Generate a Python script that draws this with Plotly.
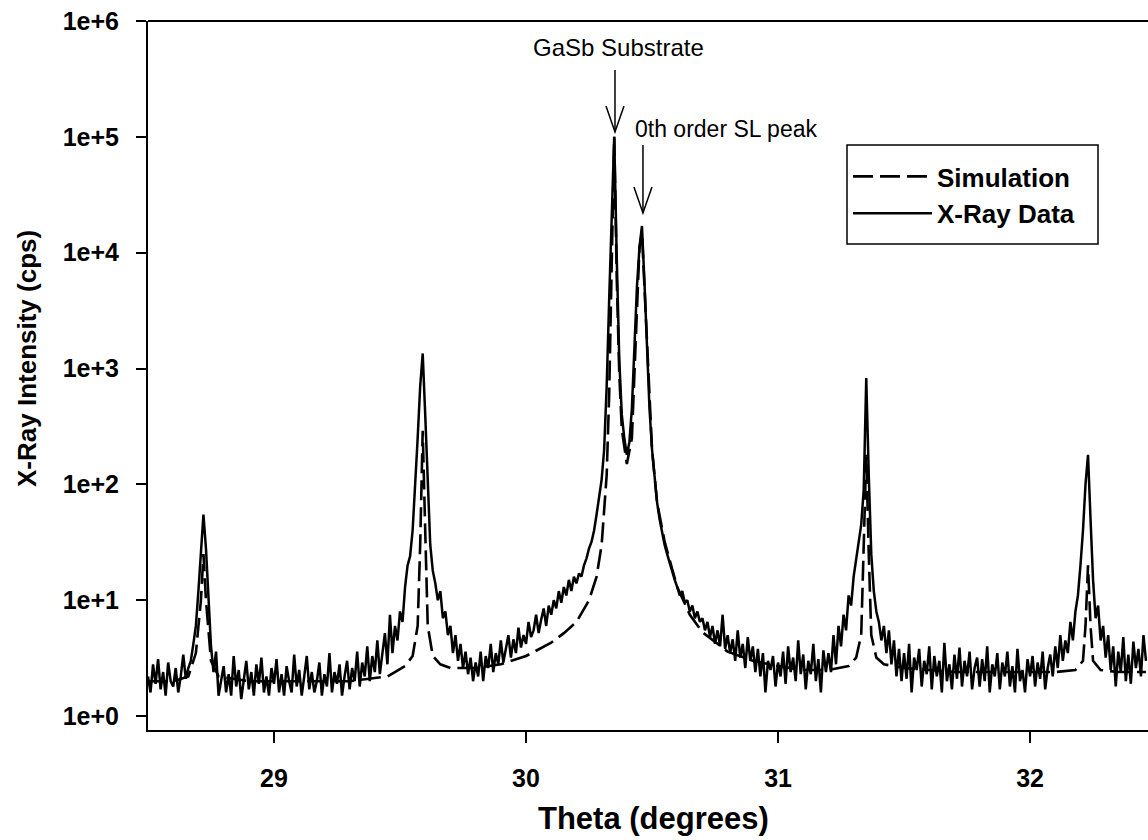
import numpy as np
import plotly.graph_objects as go

# ---------------- data ----------------
theta_start = 28.50
theta_step = 0.01
xray_counts = [
    2.2, 1.6, 2.8, 1.9, 3.1, 1.7, 2.4, 1.5, 2.9, 2.0,      # 28.5
    1.8, 2.6, 1.6, 2.2, 3.4, 2.1, 2.6, 3.0, 4.2, 6.0,      # 28.6
    12, 26, 55, 28, 9, 4.0, 2.4, 3.6, 1.5, 2.0,            # 28.7
    2.7, 1.6, 2.3, 1.5, 3.3, 1.8, 2.5, 1.4, 2.1, 3.0,      # 28.8
    1.7, 2.4, 1.5, 2.8, 1.9, 3.2, 1.6, 2.2, 1.5, 2.6,      # 28.9
    1.9, 3.1, 1.6, 2.3, 1.5, 2.7, 2.0, 1.6, 3.4, 1.8,      # 29.0
    2.5, 1.5, 2.2, 3.3, 1.7, 2.4, 1.6, 2.0, 2.9, 1.5,      # 29.1
    2.3, 1.8, 3.5, 1.6, 2.4, 1.9, 2.8, 1.5, 2.2, 3.0,      # 29.2
    1.7, 2.6, 2.0, 3.6, 1.8, 2.9, 2.2, 4.0, 2.0, 3.3,      # 29.3
    2.4, 4.5, 2.3, 3.6, 5.2, 2.8, 7.5, 3.5, 6.0, 4.5,      # 29.4
    8, 6.5, 13, 20, 24, 40, 90, 250, 700, 1350,            # 29.5
    400, 90, 30, 18, 14, 10, 12, 7, 8, 5,                  # 29.6
    6.0, 3.5, 5.0, 3.0, 4.2, 2.6, 3.6, 2.3, 3.2, 2.0,      # 29.7
    2.9, 2.2, 3.6, 2.0, 3.3, 2.6, 4.2, 2.4, 3.5, 2.8,      # 29.8
    4.5, 2.9, 3.8, 5.0, 3.2, 4.6, 3.5, 5.8, 3.9, 5.0,      # 29.9
    4.2, 6.5, 4.8, 5.5, 7.5, 5.2, 6.8, 8.5, 6.0, 9.0,      # 30.0
    7.5, 10, 8.5, 12, 9.5, 13, 11, 15, 12, 16,             # 30.1
    14, 17, 16, 20, 23, 28, 32, 40, 55, 75,                # 30.2
    110, 200, 700, 4000, 20000, 100000, 9000, 1200, 400, 250,  # 30.3
    180, 230, 450, 1500, 5000, 11000, 17000, 5500, 1500, 450,  # 30.4
    200, 110, 70, 50, 38, 30, 25, 21, 17, 15,              # 30.5
    13, 11, 12, 9.5, 10, 8, 9, 7, 8, 6.5,                  # 30.6
    7, 5.5, 6.5, 4.8, 6, 4.2, 5.5, 4.0, 7.5, 3.8,          # 30.7
    5, 3.5, 4.6, 3.0, 5.5, 3.2, 4.2, 2.6, 4.8, 3.0,        # 30.8
    4.0, 2.4, 3.8, 2.2, 3.5, 1.6, 3.0, 2.5, 3.3, 1.8,      # 30.9
    2.9, 2.2, 3.6, 1.9, 4.0, 2.4, 3.2, 2.0, 4.5, 2.3,      # 31.0
    3.4, 1.7, 3.0, 2.3, 4.2, 2.0, 3.1, 1.6, 3.7, 2.4,      # 31.1
    3.5, 2.4, 5.0, 2.8, 6.0, 4.0, 7.5, 5.5, 11, 9,         # 31.2
    16, 22, 30, 45, 90, 830, 120, 25, 12, 8,               # 31.3
    6.5, 4.5, 6.0, 3.5, 5.5, 2.8, 4.5, 2.2, 3.8, 2.0,      # 31.4
    3.5, 2.1, 4.2, 1.6, 3.2, 2.5, 3.8, 1.8, 3.0, 2.3,      # 31.5
    4.0, 1.7, 3.3, 2.2, 3.0, 1.6, 4.3, 2.0, 2.8, 1.7,      # 31.6
    3.4, 2.1, 3.9, 1.8, 3.0, 2.2, 3.6, 1.7, 2.6, 3.2,      # 31.7
    1.8, 3.1, 2.0, 4.0, 1.6, 2.8, 2.2, 3.5, 1.7, 2.9,      # 31.8
    2.2, 3.6, 1.8, 2.7, 1.6, 3.8, 2.0, 2.5, 1.6, 3.1,      # 31.9
    2.2, 3.3, 1.8, 2.9, 2.1, 3.6, 1.7, 2.6, 3.4, 2.2,      # 32.0
    4.0, 2.6, 5.0, 3.0, 4.5, 3.5, 6.5, 4.5, 8, 11,         # 32.1
    20, 40, 100, 180, 50, 15, 7, 9, 4.5, 6,                # 32.2
    3.2, 5.0, 2.5, 4.0, 1.8, 3.6, 2.4, 4.8, 2.0, 3.4,      # 32.3
    1.9, 4.4, 2.6, 3.8, 2.2, 5.0, 3.0,                     # 32.4
]

sim_theta = [28.50, 28.60, 28.66, 28.69, 28.71, 28.72, 28.73, 28.75, 28.78, 28.90,
             29.10, 29.30, 29.45, 29.52, 29.55, 29.57, 29.58, 29.59, 29.60, 29.61,
             29.63, 29.66, 29.70, 29.80, 29.90, 30.00, 30.10, 30.15, 30.20, 30.25,
             30.28, 30.30, 30.32, 30.33, 30.34, 30.35, 30.36, 30.37, 30.38, 30.40,
             30.42, 30.43, 30.44, 30.45, 30.46, 30.47, 30.48, 30.49, 30.50, 30.52,
             30.55, 30.60, 30.65, 30.70, 30.80, 30.90, 31.00, 31.10, 31.20, 31.28,
             31.31, 31.33, 31.34, 31.35, 31.36, 31.37, 31.39, 31.42, 31.50, 31.70,
             31.90, 32.10, 32.18, 32.21, 32.22, 32.23, 32.24, 32.25, 32.28, 32.35,
             32.46]
sim_counts = [2.0, 2.0, 2.2, 3.5, 10, 25, 10, 3.0, 2.2, 2.0,
              2.0, 2.0, 2.2, 2.7, 3.3, 6, 30, 290, 40, 6,
              3.3, 2.8, 2.6, 2.6, 2.8, 3.3, 4.3, 5.2, 6.5, 10,
              16, 30, 120, 600, 8000, 100000, 6000, 900, 300, 150,
              250, 900, 4000, 11000, 15000, 5000, 1400, 450, 200, 70,
              32, 13, 7.5, 5.3, 3.6, 3.0, 2.7, 2.5, 2.5, 2.7,
              3.2, 5, 25, 180, 25, 5, 3.2, 2.8, 2.6, 2.4,
              2.4, 2.4, 2.5, 3.0, 6, 20, 6, 3.0, 2.5, 2.4,
              2.4]

series_names = ["Simulation", "X-Ray Data"]
x_ticks = [29, 30, 31, 32]
y_tick_vals = [1, 10, 100, 1000, 10000, 100000, 1000000]
y_tick_text = ["1e+0", "1e+1", "1e+2", "1e+3", "1e+4", "1e+5", "1e+6"]
peak_labels = ["GaSb Substrate", "0th order SL peak"]
peak_theta = [30.353, 30.464]

xray_theta = np.round(theta_start + theta_step * np.arange(len(xray_counts)), 2)

# ---------------- figure ----------------
FONT = "Liberation Sans, Arial, sans-serif"
fig = go.Figure()
fig.add_trace(go.Scatter(x=sim_theta, y=sim_counts, mode="lines", name=series_names[0],
                         line=dict(color="black", width=2.6, dash="20px,7px")))
fig.add_trace(go.Scatter(x=xray_theta, y=xray_counts, mode="lines", name=series_names[1],
                         line=dict(color="black", width=2.5)))

W, H = 1148, 840
L, T, B, R = 148, 21, 110, 0
pw, ph = W - L - R, H - T - B

def py(pix):  # pixel row -> paper y
    return (H - B - pix) / ph

def px(pix):  # pixel column -> paper x
    return (pix - L) / pw

def dx(pix):  # pixel offset -> theta offset
    return pix * (32.468 - 28.5) / pw

fig.update_layout(
    width=W, height=H,
    margin=dict(l=L, r=R, t=T, b=B),
    paper_bgcolor="white", plot_bgcolor="white",
    font=dict(family=FONT, color="black"),
    showlegend=True,
    legend=dict(x=px(848), y=py(153), xanchor="left", yanchor="top",
                bgcolor="rgba(0,0,0,0)", borderwidth=0,
                font=dict(size=26, family=FONT, weight="bold"),
                itemwidth=79, tracegroupgap=0),
)
fig.update_xaxes(range=[28.5, 32.468], tickvals=x_ticks, ticks="outside", ticklen=11,
                 tickwidth=1.5, tickcolor="black", showline=True, linecolor="black",
                 linewidth=2, showgrid=False, zeroline=False, ticklabelstandoff=14,
                 tickfont=dict(size=25, family=FONT, weight="bold"))
fig.update_yaxes(type="log", range=[np.log10(0.7585), 6], tickvals=y_tick_vals,
                 ticktext=y_tick_text, ticks="outside", ticklen=10, tickwidth=1.5,
                 tickcolor="black", showline=True, linecolor="black", linewidth=2,
                 showgrid=False, zeroline=False, ticklabelstandoff=12,
                 tickfont=dict(size=25, family=FONT, weight="bold"))

# top frame line
fig.add_shape(type="line", xref="paper", yref="paper", x0=0, x1=1, y0=1, y1=1,
              line=dict(color="black", width=2))

# legend frame
fig.add_shape(type="rect", xref="paper", yref="paper", x0=px(847), x1=px(1098),
              y0=py(244), y1=py(145), line=dict(color="black", width=1.5),
              fillcolor="white", layer="above")

# axis titles
fig.add_annotation(text="Theta (degrees)", xref="paper", yref="paper",
                   x=px(653), y=py(818), xanchor="center", yanchor="middle",
                   showarrow=False, font=dict(size=31, family=FONT, weight="bold"))
fig.add_annotation(text="X-Ray Intensity (cps)", xref="paper", yref="paper",
                   x=px(27), y=py(359), xanchor="center", yanchor="middle",
                   textangle=-90, showarrow=False,
                   font=dict(size=26, family=FONT, weight="bold"))

# peak labels and arrows
fig.add_annotation(text=peak_labels[0], xref="x", yref="paper", x=peak_theta[0] + dx(4),
                   y=py(47), xanchor="center", yanchor="middle", showarrow=False,
                   font=dict(size=24, family=FONT))
fig.add_annotation(text=peak_labels[1], xref="x", yref="paper", x=peak_theta[0] + dx(18),
                   y=py(129), xanchor="left", yanchor="middle", showarrow=False,
                   font=dict(size=23, family=FONT))

arrows = [(peak_theta[0], 70, 132), (peak_theta[1], 145, 213)]
for xt, ytop, ybot in arrows:
    fig.add_shape(type="line", xref="x", yref="paper", x0=xt, x1=xt, y0=py(ytop), y1=py(ybot),
                  line=dict(color="black", width=1.5))
    fig.add_shape(type="path", xref="x", yref="paper",
                  path=f"M{xt - dx(9)},{py(ybot - 26)} L{xt},{py(ybot)} L{xt + dx(9)},{py(ybot - 26)}",
                  line=dict(color="black", width=1.5))

fig.write_html("out.html")
